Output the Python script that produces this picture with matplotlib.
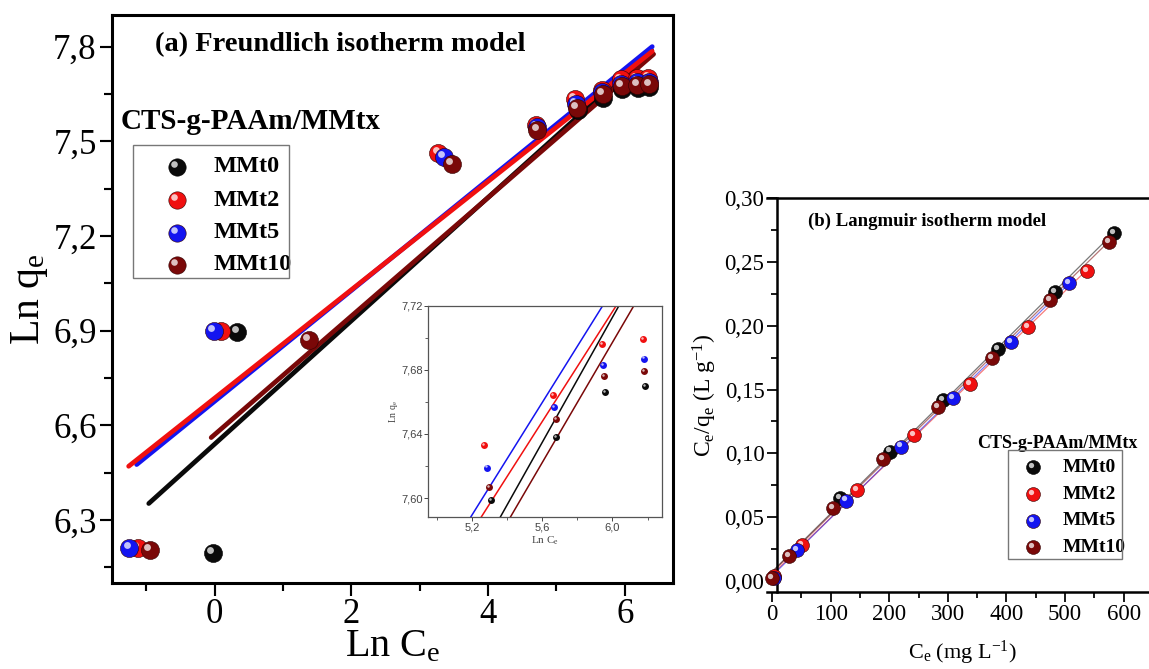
import numpy as np
import matplotlib
matplotlib.use('Agg')
import matplotlib.pyplot as plt
from matplotlib import transforms
from matplotlib.patches import Rectangle
from matplotlib.ticker import FixedLocator, FixedFormatter, MultipleLocator

plt.rcParams['font.family'] = ['Liberation Serif', 'DejaVu Serif']
plt.rcParams['mathtext.fontset'] = 'custom'
plt.rcParams['mathtext.rm'] = 'Liberation Serif'
plt.rcParams['mathtext.it'] = 'Liberation Serif:italic'
plt.rcParams['mathtext.bf'] = 'Liberation Serif:bold'

names = ['MMt0', 'MMt2', 'MMt5', 'MMt10']
colors = ['#0a0a0a', '#f01010', '#1414f0', '#7a0808']

# (a) Freundlich: Ln Ce vs Ln qe
ln_ce = [
    [-0.03, 0.33, 5.31, 5.68, 5.96, 6.185, 6.35],
    [-1.12, 0.10, 3.27, 4.70, 5.27, 5.66, 5.94, 6.175, 6.34],
    [-1.25, -0.01, 3.35, 4.71, 5.285, 5.669, 5.948, 6.179, 6.35],
    [-0.95, 1.38, 3.47, 4.72, 5.30, 5.677, 5.954, 6.18, 6.36],
]
ln_qe = [
    [6.194, 6.896, 7.599, 7.638, 7.666, 7.670, 7.672],
    [6.210, 6.898, 7.462, 7.552, 7.633, 7.664, 7.696, 7.699, 7.700],
    [6.210, 6.900, 7.451, 7.545, 7.619, 7.657, 7.683, 7.687, 7.688],
    [6.206, 6.869, 7.428, 7.536, 7.607, 7.649, 7.676, 7.679, 7.680],
]
# fitted lines (end points)
fit_x = [[-0.963, 6.39], [-1.257, 6.40], [-1.14, 6.40], [-0.05, 6.42]]
fit_y = [[6.352, 7.789], [6.470, 7.785], [6.4755, 7.800], [6.561, 7.776]]

# (b) Langmuir: Ce vs Ce/qe
ce = [
    [3, 116, 201, 292, 386, 483, 584],
    [4, 50.7, 144.5, 242, 338, 437, 537],
    [3, 42, 125.7, 219.6, 309.4, 408, 506.8],
    [0, 29, 103.5, 190, 284, 376, 474, 575],
]
ce_qe = [
    [0.003, 0.0648, 0.1013, 0.1418, 0.1815, 0.2266, 0.2723],
    [0.004, 0.0282, 0.0713, 0.1144, 0.1543, 0.1987, 0.2430],
    [0.002, 0.0243, 0.0629, 0.1052, 0.1431, 0.1870, 0.2332],
    [0.002, 0.0196, 0.0569, 0.0953, 0.1365, 0.1744, 0.2200, 0.2653],
]

a_xticks = [0, 2, 4, 6]
a_yticks = [6.3, 6.6, 6.9, 7.2, 7.5, 7.8]
a_ylabels = ['6,3', '6,6', '6,9', '7,2', '7,5', '7,8']
in_xticks = [5.2, 5.6, 6.0]
in_xlabels = ['5,2', '5,6', '6,0']
in_yticks = [7.60, 7.64, 7.68, 7.72]
in_ylabels = ['7,60', '7,64', '7,68', '7,72']
b_xticks = [0, 100, 200, 300, 400, 500, 600]
b_yticks = [0.00, 0.05, 0.10, 0.15, 0.20, 0.25, 0.30]
b_ylabels = ['0,00', '0,05', '0,10', '0,15', '0,20', '0,25', '0,30']

fig = plt.figure(figsize=(11.49, 6.69), dpi=100)


def balls(ax, x, y, color, ms, z, transform=None):
    base = ax.transData if transform is None else transform
    ax.plot(x, y, 'o', ms=ms, color=color, mec='#300000' if color != '#0a0a0a' else '#000000',
            mew=0.4, transform=base, zorder=z, clip_on=False)
    tr = transforms.offset_copy(base, fig=fig, x=-ms * 0.14, y=ms * 0.16, units='points')
    ax.plot(x, y, 'o', ms=ms * 0.38, color='white', alpha=0.75, mew=0,
            transform=tr, zorder=z + 0.1, clip_on=False)


def style(ax, lw, size, major, minor):
    for s in ax.spines.values():
        s.set_linewidth(lw)
    ax.tick_params(which='major', direction='out', length=major, width=lw * 0.7,
                   labelsize=size, pad=2)
    ax.tick_params(which='minor', direction='out', length=minor, width=lw * 0.7)


# ---------- (a) ----------
ax = fig.add_axes([0.0975, 0.1285, 0.488, 0.849])
ax.set_xlim(-1.5, 6.7)
ax.set_ylim(6.1, 7.9)
ax.xaxis.set_major_locator(FixedLocator(a_xticks))
ax.xaxis.set_minor_locator(MultipleLocator(1))
ax.yaxis.set_major_locator(FixedLocator(a_yticks))
ax.yaxis.set_major_formatter(FixedFormatter(a_ylabels))
ax.yaxis.set_minor_locator(MultipleLocator(0.15))
style(ax, 2.2, 25, 9, 5.5)
ax.set_xlabel('Ln C$_\\mathrm{e}$', fontsize=29, labelpad=-2)
ax.set_ylabel('Ln q$_\\mathrm{e}$', fontsize=30, labelpad=2)

for i in [0, 3, 2, 1]:
    ax.plot(fit_x[i], fit_y[i], color=colors[i], lw=3.4, solid_capstyle='round', zorder=2)
for i in [0, 1, 2, 3]:
    balls(ax, ln_ce[i], ln_qe[i], colors[i], 13, 3 + i)

ax.text(0.076, 0.948, '(a) Freundlich isotherm model', transform=ax.transAxes,
        fontsize=20.5, fontweight='bold', va='center')
ax.text(0.016, 0.812, 'CTS-g-PAAm/MMtx', transform=ax.transAxes,
        fontsize=21, fontweight='bold', va='center')
ax.add_patch(Rectangle((0.0374, 0.5375), 0.278, 0.2335, transform=ax.transAxes,
                       fill=False, ec='#777777', lw=1, zorder=6))
rows = [0.733, 0.674, 0.617, 0.560]
for i in range(4):
    balls(ax, [0.115], [rows[i]], colors[i], 12.5, 7, transform=ax.transAxes)
    ax.text(0.181, rows[i], names[i], transform=ax.transAxes, fontsize=17.5,
            fontweight='bold', va='center')

# inset
axi = fig.add_axes([0.3728, 0.2268, 0.2031, 0.3163])
axi.set_xlim(4.953, 6.28)
axi.set_ylim(7.588, 7.72)
axi.xaxis.set_major_locator(FixedLocator(in_xticks))
axi.xaxis.set_major_formatter(FixedFormatter(in_xlabels))
axi.xaxis.set_minor_locator(FixedLocator([5.0, 5.4, 5.8, 6.2]))
axi.yaxis.set_major_locator(FixedLocator(in_yticks))
axi.yaxis.set_major_formatter(FixedFormatter(in_ylabels))
axi.yaxis.set_minor_locator(MultipleLocator(0.02))
for s in axi.spines.values():
    s.set_linewidth(0.9)
    s.set_color('#555555')
axi.tick_params(which='major', direction='out', length=3, width=0.7, labelsize=8,
                pad=1, colors='#444444')
axi.tick_params(which='minor', direction='out', length=2, width=0.6, colors='#444444')
for lab in axi.get_xticklabels() + axi.get_yticklabels():
    lab.set_family(['Liberation Sans', 'DejaVu Sans'])
axi.set_xlabel('Ln C$_\\mathrm{e}$', fontsize=8, labelpad=1, color='#444444')
axi.set_ylabel('Ln q$_\\mathrm{e}$', fontsize=7, labelpad=1, color='#444444')
for i in [0, 3, 2, 1]:
    axi.plot(fit_x[i], fit_y[i], color=colors[i], lw=1.1, zorder=2)
for i in [0, 1, 2, 3]:
    axi.plot(ln_ce[i], ln_qe[i], 'o', ms=5, color=colors[i], mew=0, zorder=3 + i)
    tr = transforms.offset_copy(axi.transData, fig=fig, x=-0.7, y=0.8, units='points')
    axi.plot(ln_ce[i], ln_qe[i], 'o', ms=1.8, color='white', alpha=0.7, mew=0,
             transform=tr, zorder=3.1 + i)

# ---------- (b) ----------
bx = fig.add_axes([0.6673, 0.1155, 0.3412, 0.5885])
bx.set_xlim(-9, 660)
bx.set_ylim(-0.0084, 0.30)
bx.spines['left'].set_position(('data', 8.5))
bx.spines['right'].set_visible(False)
bx.xaxis.set_major_locator(FixedLocator(b_xticks))
bx.xaxis.set_minor_locator(MultipleLocator(50))
bx.yaxis.set_major_locator(FixedLocator(b_yticks))
bx.yaxis.set_major_formatter(FixedFormatter(b_ylabels))
bx.yaxis.set_minor_locator(MultipleLocator(0.025))
style(bx, 1.8, 16.5, 7, 4)
bx.set_xlabel('C$_\\mathrm{e}$ (mg L$^{\\mathrm{-1}}$)', fontsize=16, labelpad=10)
bx.set_ylabel('C$_\\mathrm{e}$/q$_\\mathrm{e}$ (L g$^{\\mathrm{-1}}$)', fontsize=17, labelpad=4)

for i in range(4):
    k, b = np.polyfit(ce[i], ce_qe[i], 1)
    xx = np.array([0, max(ce[i])])
    bx.plot(xx, k * xx + b, color=colors[i], lw=0.9, alpha=0.55, zorder=2)
for i in [0, 1, 2, 3]:
    balls(bx, ce[i], ce_qe[i], colors[i], 10, 3 + i)

bx.text(0.106, 0.940, '(b) Langmuir isotherm model', transform=bx.transAxes,
        fontsize=13.5, fontweight='bold', va='center')
bx.text(0.536, 0.377, 'CTS-g-PAAm/MMtx', transform=bx.transAxes,
        fontsize=13, fontweight='bold', va='center')
bx.add_patch(Rectangle((0.616, 0.083), 0.291, 0.277, transform=bx.transAxes,
                       fill=False, ec='#777777', lw=1, zorder=6))
rows_b = [0.316, 0.248, 0.180, 0.113]
for i in range(4):
    balls(bx, [0.680], [rows_b[i]], colors[i], 10, 7, transform=bx.transAxes)
    bx.text(0.754, rows_b[i], names[i], transform=bx.transAxes, fontsize=14,
            fontweight='bold', va='center')

fig.savefig('out.png', dpi=100)
plt.close()
